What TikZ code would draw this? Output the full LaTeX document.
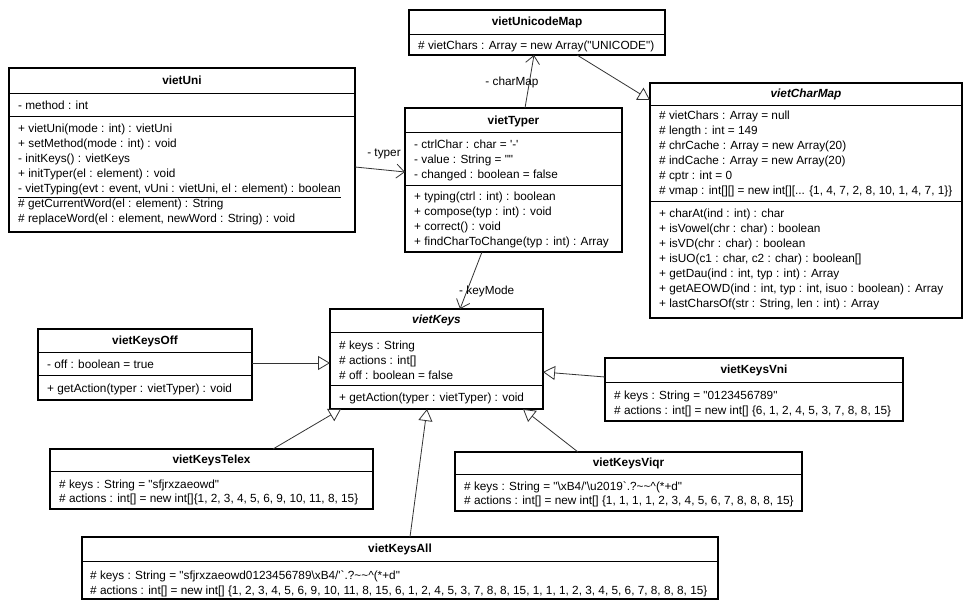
\documentclass[tikz,border=0pt]{standalone}
\usepackage{fontspec}
\setmainfont{Liberation Sans}[Ligatures=TeXOff]
\usetikzlibrary{arrows.meta,calc}
\newcommand\fsz{\fontsize{11.8}{14}\selectfont}
\tikzset{
 cbox/.style={draw, line width=1.8pt, outer sep=0pt, inner sep=0pt, anchor=north west},
 csep/.style={line width=0.9pt},
 ctitle/.style={font=\fsz\bfseries, inner sep=0pt},
 cabs/.style={font=\fsz\bfseries\itshape, inner sep=0pt},
 rowtxt/.style={font=\fsz, inner sep=0pt, anchor=base west},
 conn/.style={line width=0.8pt, draw=black!80},
 gen/.style={conn, -{Triangle[open, length=12pt, width=14pt, line width=0.8pt]}},
 assoc/.style={conn, -{Straight Barb[length=8pt, width=14pt, line width=0.8pt]}},
 lbl/.style={font=\fsz, inner sep=0pt},
}
\begin{document}
\begin{tikzpicture}[x=1pt,y=-1pt]
\fill[white] (0,0) rectangle (971,609);
\useasboundingbox (0,0) rectangle (971,609);

% vietUnicodeMap
\node[cbox, minimum width=256, minimum height=45] (vietUnicodeMap) at (409,10) {};
\node[ctitle] (tUnicodeMap) at (537,22) {vietUnicodeMap};
\draw[csep] (vietUnicodeMap.west |- 0,34) -- (vietUnicodeMap.east |- 0,34);
\node[rowtxt] (rUM1) at (418,50) {\# vietChars : Array = new Array("UNICODE")};

% vietUni
\node[cbox, minimum width=346, minimum height=164] (vietUni) at (9,68) {};
\node[ctitle] (tUni) at (182,80) {vietUni};
\draw[csep] (vietUni.west |- 0,93) -- (vietUni.east |- 0,93);
\draw[csep] (vietUni.west |- 0,116) -- (vietUni.east |- 0,116);
\node[rowtxt] (rU1) at (18,110) {- method : int};
\node[rowtxt] (rU2) at (18,133) {+ vietUni(mode : int) : vietUni};
\node[rowtxt] (rU3) at (18,148) {+ setMethod(mode : int) : void};
\node[rowtxt] (rU4) at (18,163) {- initKeys() : vietKeys};
\node[rowtxt] (rU5) at (18,178) {+ initTyper(el : element) : void};
\node[rowtxt] (rU6) at (18,193) {\underline{- vietTyping(evt : event, vUni : vietUni, el : element) : boolean}};
\node[rowtxt] (rU7) at (18,208) {\# getCurrentWord(el : element) : String};
\node[rowtxt] (rU8) at (18,223) {\# replaceWord(el : element, newWord : String) : void};

% vietTyper
\node[cbox, minimum width=217, minimum height=144] (vietTyper) at (405,108) {};
\node[ctitle] (tTyper) at (513.5,121) {vietTyper};
\draw[csep] (vietTyper.west |- 0,132) -- (vietTyper.east |- 0,132);
\draw[csep] (vietTyper.west |- 0,185) -- (vietTyper.east |- 0,185);
\node[rowtxt] (rT1) at (414,149) {- ctrlChar : char = '-'};
\node[rowtxt] (rT2) at (414,164) {- value : String = ""};
\node[rowtxt] (rT3) at (414,179) {- changed : boolean = false};
\node[rowtxt] (rT4) at (414,201) {+ typing(ctrl : int) : boolean};
\node[rowtxt] (rT5) at (414,216) {+ compose(typ : int) : void};
\node[rowtxt] (rT6) at (414,231) {+ correct() : void};
\node[rowtxt] (rT7) at (414,246) {+ findCharToChange(typ : int) : Array};

% vietCharMap
\node[cbox, minimum width=312, minimum height=235] (vietCharMap) at (650,83) {};
\node[cabs] (tCharMap) at (806,94) {vietCharMap};
\draw[csep] (vietCharMap.west |- 0,105) -- (vietCharMap.east |- 0,105);
\draw[csep] (vietCharMap.west |- 0,201) -- (vietCharMap.east |- 0,201);
\node[rowtxt] (rC1) at (659,120) {\# vietChars : Array = null};
\node[rowtxt] (rC2) at (659,135) {\# length : int = 149};
\node[rowtxt] (rC3) at (659,150) {\# chrCache : Array = new Array(20)};
\node[rowtxt] (rC4) at (659,165) {\# indCache : Array = new Array(20)};
\node[rowtxt] (rC5) at (659,180) {\# cptr : int = 0};
\node[rowtxt] (rC6) at (659,195) {\# vmap : int[][] = new int[][... \{1, 4, 7, 2, 8, 10, 1, 4, 7, 1\}\}};
\node[rowtxt] (rC7) at (659,218) {+ charAt(ind : int) : char};
\node[rowtxt] (rC8) at (659,233) {+ isVowel(chr : char) : boolean};
\node[rowtxt] (rC9) at (659,248) {+ isVD(chr : char) : boolean};
\node[rowtxt] (rC10) at (659,263) {+ isUO(c1 : char, c2 : char) : boolean[]};
\node[rowtxt] (rC11) at (659,278) {+ getDau(ind : int, typ : int) : Array};
\node[rowtxt] (rC12) at (659,293) {+ getAEOWD(ind : int, typ : int, isuo : boolean) : Array};
\node[rowtxt] (rC13) at (659,308) {+ lastCharsOf(str : String, len : int) : Array};

% vietKeys
\node[cbox, minimum width=213, minimum height=100] (vietKeys) at (330,309) {};
\node[cabs] (tKeys) at (436.5,320) {vietKeys};
\draw[csep] (vietKeys.west |- 0,332) -- (vietKeys.east |- 0,332);
\draw[csep] (vietKeys.west |- 0,385) -- (vietKeys.east |- 0,385);
\node[rowtxt] (rK1) at (339,349) {\# keys : String};
\node[rowtxt] (rK2) at (339,364) {\# actions : int[]};
\node[rowtxt] (rK3) at (339,379) {\# off : boolean = false};
\node[rowtxt] (rK4) at (339,401) {+ getAction(typer : vietTyper) : void};

% vietKeysOff
\node[cbox, minimum width=214, minimum height=71] (vietKeysOff) at (38,329) {};
\node[ctitle] (tOff) at (145,341) {vietKeysOff};
\draw[csep] (vietKeysOff.west |- 0,352) -- (vietKeysOff.east |- 0,352);
\draw[csep] (vietKeysOff.west |- 0,375) -- (vietKeysOff.east |- 0,375);
\node[rowtxt] (rO1) at (47,368) {- off : boolean = true};
\node[rowtxt] (rO2) at (47,392) {+ getAction(typer : vietTyper) : void};

% vietKeysVni
\node[cbox, minimum width=298, minimum height=63] (vietKeysVni) at (605,358) {};
\node[ctitle] (tVni) at (754,370) {vietKeysVni};
\draw[csep] (vietKeysVni.west |- 0,382) -- (vietKeysVni.east |- 0,382);
\node[rowtxt] (rV1) at (614,399) {\# keys : String = "0123456789"};
\node[rowtxt] (rV2) at (614,414) {\# actions : int[] = new int[] \{6, 1, 2, 4, 5, 3, 7, 8, 8, 15\}};

% vietKeysTelex
\node[cbox, minimum width=323, minimum height=60] (vietKeysTelex) at (50,449) {};
\node[ctitle] (tTelex) at (211.5,460) {vietKeysTelex};
\draw[csep] (vietKeysTelex.west |- 0,471) -- (vietKeysTelex.east |- 0,471);
\node[rowtxt] (rX1) at (59,488) {\# keys : String = "sfjrxzaeowd"};
\node[rowtxt] (rX2) at (59,502) {\# actions : int[] = new int[]\{1, 2, 3, 4, 5, 6, 9, 10, 11, 8, 15\}};

% vietKeysViqr
\node[cbox, minimum width=347, minimum height=59] (vietKeysViqr) at (455,452) {};
\node[ctitle] (tViqr) at (628.5,463) {vietKeysViqr};
\draw[csep] (vietKeysViqr.west |- 0,474) -- (vietKeysViqr.east |- 0,474);
\node[rowtxt] (rQ1) at (464,490) {\# keys : String = "\textbackslash xB4/'\textbackslash u2019`.?\textasciitilde\textasciitilde\textasciicircum(*+d"};
\node[rowtxt] (rQ2) at (464,504) {\# actions : int[] = new int[] \{1, 1, 1, 1, 2, 3, 4, 5, 6, 7, 8, 8, 8, 15\}};

% vietKeysAll
\node[cbox, minimum width=636, minimum height=62] (vietKeysAll) at (82,537) {};
\node[ctitle] (tAll) at (400,549) {vietKeysAll};
\draw[csep] (vietKeysAll.west |- 0,561) -- (vietKeysAll.east |- 0,561);
\node[rowtxt] (rA1) at (90,579) {\# keys : String = "sfjrxzaeowd0123456789\textbackslash xB4/'`.?\textasciitilde\textasciitilde\textasciicircum(*+d"};
\node[rowtxt] (rA2) at (90,594) {\# actions : int[] = new int[] \{1, 2, 3, 4, 5, 6, 9, 10, 11, 8, 15, 6, 1, 2, 4, 5, 3, 7, 8, 8, 15, 1, 1, 1, 2, 3, 4, 5, 6, 7, 8, 8, 8, 15\}};

% connectors
\draw[assoc] (vietUni.east |- 0,167) -- (vietTyper.west |- 0,172);
\node[lbl] (lTyper) at (384,154) {- typer};
\draw[assoc] (vietTyper.north -| 525,0) -- (vietUnicodeMap.south -| 534,0);
\node[lbl] (lCharMap) at (512,82) {- charMap};
\draw[gen] (vietUnicodeMap.south -| 577,0) -- (vietCharMap.west |- 0,100);
\draw[assoc] (vietTyper.south -| 482,0) -- (vietKeys.north -| 460,0);
\node[lbl, anchor=west] (lKeyMode) at (459,291) {- keyMode};
\draw[gen] (vietKeysOff.east |- 0,363) -- (vietKeys.west |- 0,363);
\draw[gen] (vietKeysVni.west |- 0,377) -- (vietKeys.east |- 0,372);
\draw[gen] (vietKeysTelex.north -| 273,0) -- (vietKeys.south -| 341,0);
\draw[gen] (vietKeysAll.north -| 410,0) -- (vietKeys.south -| 427,0);
\draw[gen] (vietKeysViqr.north -| 578,0) -- (vietKeys.south -| 523,0);
\end{tikzpicture}
\end{document}
